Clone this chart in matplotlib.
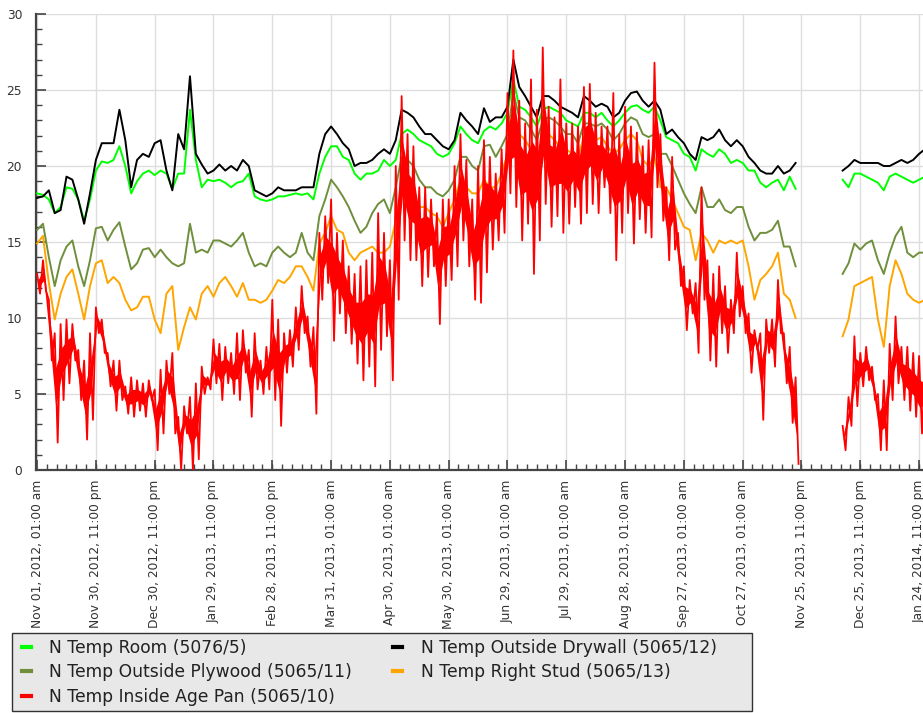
import numpy as np
import pandas as pd
import matplotlib
matplotlib.use("Agg")
import matplotlib.pyplot as plt
import matplotlib.dates as mdates
from matplotlib.ticker import FixedLocator, MultipleLocator
from matplotlib.lines import Line2D
from matplotlib.patches import Rectangle

nan = np.nan

# ---------------- data (one value every 3 days) ----------------
start = "2012-11-01 01:00"
step_days = 3

room = [18.2, 18.1, 17.8, 16.9, 17.3, 18.6, 18.5, 17.8, 16.4, 17.8,
        19.7, 20.3, 20.2, 20.4, 21.3, 20.0, 18.2, 19.0, 19.5, 19.7,
        19.4, 19.7, 19.5, 18.5, 19.5, 19.5, 23.7, 20.4, 18.6, 19.1,
        19.0, 19.1, 18.9, 18.6, 18.9, 19.0, 19.5, 18.0, 17.8, 17.7,
        17.8, 18.0, 18.0, 18.1, 18.2, 18.1, 18.2, 17.8, 19.5, 20.6,
        21.3, 21.3, 20.6, 20.4, 19.5, 19.1, 19.5, 19.5, 19.7, 20.4,
        20.0, 20.4, 22.1, 22.4, 22.1, 21.7, 21.5, 21.3, 20.8, 20.6,
        20.8, 21.5, 22.6, 22.1, 21.7, 21.5, 22.3, 22.6, 22.4, 22.8,
        23.5, 25.7, 23.9, 23.7, 23.2, 22.6, 23.7, 23.9, 23.7, 23.5,
        23.0, 22.8, 22.6, 23.5, 23.5, 23.2, 23.5, 23.0, 22.6, 23.0,
        23.5, 23.9, 24.0, 23.7, 23.5, 23.9, 23.0, 21.9, 21.7, 21.5,
        20.8, 20.6, 19.7, 21.1, 20.8, 20.6, 21.1, 20.8, 20.2, 20.4,
        20.2, 19.7, 19.7, 18.9, 18.6, 18.9, 19.1, 18.4, 19.3, 18.5,
        nan, nan, nan, nan, nan, nan, nan, 19.1, 18.6, 19.5,
        19.5, 19.3, 19.1, 18.9, 18.4, 19.3, 19.5, 19.3, 19.1, 18.9,
        19.1, 19.3]

drywall = [17.9, 18.0, 18.4, 16.9, 17.1, 19.3, 19.1, 17.8, 16.2, 18.2,
           20.4, 21.5, 21.5, 21.5, 23.7, 21.7, 18.6, 20.4, 20.8, 20.6,
           21.5, 21.7, 19.7, 18.4, 22.1, 21.1, 25.9, 20.8, 20.1, 19.5,
           19.7, 20.1, 19.7, 20.0, 19.7, 20.4, 20.0, 18.4, 18.2, 18.0,
           18.2, 18.6, 18.4, 18.4, 18.4, 18.6, 18.6, 18.6, 20.8, 22.1,
           22.6, 22.1, 21.5, 21.1, 20.0, 20.2, 20.2, 20.4, 20.8, 21.1,
           20.8, 21.7, 23.7, 23.5, 23.2, 22.6, 22.1, 22.1, 21.7, 21.3,
           21.1, 21.7, 23.5, 23.0, 22.6, 22.1, 23.8, 22.9, 23.2, 23.2,
           23.9, 27.0, 25.2, 24.6, 23.9, 23.2, 24.6, 24.6, 24.3, 23.9,
           23.7, 23.5, 23.2, 24.6, 24.3, 23.9, 24.1, 23.9, 23.2, 23.5,
           24.3, 24.8, 24.9, 24.3, 23.9, 24.3, 23.7, 22.1, 22.4, 21.9,
           21.5, 20.8, 20.4, 21.9, 21.7, 21.9, 22.4, 21.7, 21.3, 21.7,
           21.3, 20.6, 20.2, 19.7, 19.5, 19.5, 20.0, 19.5, 19.7, 20.2,
           nan, nan, nan, nan, nan, nan, nan, 19.7, 20.0, 20.4,
           20.2, 20.2, 20.2, 20.2, 20.0, 20.0, 20.2, 20.4, 20.2, 20.4,
           20.8, 21.1]

plywood = [15.8, 16.2, 14.0, 12.1, 13.8, 14.7, 15.1, 13.4, 12.1, 13.8,
           15.9, 16.0, 15.1, 15.8, 16.3, 14.7, 13.2, 13.6, 14.5, 14.6,
           14.0, 14.5, 14.0, 13.6, 13.4, 13.6, 16.2, 14.3, 14.5, 14.3,
           15.1, 15.1, 14.9, 14.7, 15.1, 15.6, 14.3, 13.4, 13.6, 13.4,
           14.3, 14.7, 14.3, 14.0, 14.3, 15.6, 14.3, 13.8, 16.7, 17.8,
           19.1, 18.6, 18.0, 17.3, 16.4, 15.6, 16.0, 16.9, 17.5, 17.8,
           16.9, 18.6, 20.6, 20.4, 20.0, 19.1, 18.6, 18.6, 18.2, 18.0,
           18.4, 19.1, 20.6, 20.6, 20.0, 19.7, 21.3, 21.4, 20.6, 21.3,
           22.1, 24.8, 23.2, 23.0, 22.4, 21.7, 23.0, 23.2, 23.0, 22.6,
           22.1, 22.1, 21.5, 22.8, 22.8, 22.6, 22.8, 22.4, 21.7, 22.1,
           22.8, 23.2, 23.0, 22.1, 21.9, 22.1, 20.8, 20.8, 20.0, 19.1,
           18.2, 17.5, 16.9, 18.6, 17.3, 17.3, 17.8, 17.1, 16.9, 17.3,
           17.3, 16.0, 15.1, 15.6, 15.6, 15.8, 16.4, 14.7, 14.7, 13.4,
           nan, nan, nan, nan, nan, nan, nan, 12.9, 13.6, 14.9,
           14.5, 14.9, 15.1, 13.8, 12.9, 14.3, 15.4, 16.0, 14.3, 14.0,
           14.3, 14.3]

stud = [14.9, 15.4, 12.3, 9.9, 11.6, 12.7, 13.2, 11.6, 9.9, 12.1,
        13.6, 13.8, 12.3, 12.7, 12.3, 11.2, 10.5, 10.7, 11.4, 11.4,
        9.9, 9.0, 11.6, 12.1, 7.9, 9.4, 10.7, 9.9, 11.6, 12.1,
        11.4, 12.3, 12.7, 12.1, 11.4, 12.3, 11.2, 11.2, 11.0, 11.2,
        11.8, 12.5, 12.3, 12.7, 13.4, 13.4, 12.7, 11.8, 14.9, 15.6,
        16.7, 15.8, 15.6, 14.3, 13.8, 14.3, 14.5, 14.7, 14.3, 14.3,
        14.7, 16.4, 18.6, 18.6, 18.0, 17.3, 17.3, 16.9, 16.7, 16.0,
        16.9, 17.8, 19.1, 18.6, 18.2, 18.2, 19.1, 18.6, 18.6, 19.5,
        20.8, 23.9, 22.1, 21.7, 21.1, 20.4, 21.7, 22.1, 21.7, 21.3,
        21.1, 20.8, 20.6, 21.9, 21.9, 21.7, 21.9, 21.3, 20.8, 21.1,
        21.7, 22.1, 21.7, 20.4, 20.0, 20.6, 18.6, 18.6, 17.8, 16.9,
        16.0, 15.8, 13.8, 15.6, 15.1, 14.3, 15.1, 14.9, 15.1, 14.9,
        15.1, 13.4, 11.2, 12.5, 12.9, 13.4, 14.3, 11.6, 11.2, 10.0,
        nan, nan, nan, nan, nan, nan, nan, 8.8, 9.9, 12.1,
        12.3, 12.5, 12.7, 9.9, 8.1, 12.1, 13.8, 12.9, 11.6, 11.2,
        11.0, 11.2]

# Inside Age Pan: daily highs and lows over each 3-day step
agepan_high = [12.9, 13.8, 11.2, 9.0, 9.6, 9.9, 9.6, 7.9, 7.2, 9.0,
               10.7, 9.9, 7.7, 7.2, 7.2, 5.5, 6.1, 5.9, 5.7, 5.9,
               5.3, 6.6, 7.2, 7.7, 3.5, 4.2, 4.8, 5.7, 6.8, 6.1,
               8.6, 8.3, 8.1, 7.7, 9.0, 9.2, 7.9, 9.0, 7.2, 8.1,
               11.2, 9.9, 9.0, 9.2, 10.7, 12.1, 10.1, 9.4, 15.6, 16.7,
               17.8, 15.6, 15.1, 13.4, 12.9, 13.4, 13.8, 14.3, 16.9, 15.6,
               13.8, 20.0, 24.6, 22.1, 21.3, 18.6, 18.6, 17.8, 16.9, 17.8,
               17.8, 20.0, 22.1, 20.4, 17.8, 20.0, 21.7, 20.6, 19.5, 21.1,
               24.8, 27.6, 24.3, 22.8, 25.7, 23.7, 27.8, 23.9, 23.2, 25.7,
               22.8, 22.8, 22.6, 25.2, 25.4, 23.5, 22.6, 22.6, 24.8, 22.1,
               23.9, 22.6, 22.2, 21.3, 21.7, 26.8, 22.1, 18.6, 20.6, 15.6,
               13.4, 12.5, 12.3, 18.6, 13.8, 12.9, 13.4, 12.1, 11.2, 14.3,
               12.1, 10.3, 9.2, 9.0, 9.9, 9.9, 12.5, 9.0, 8.1, 6.1,
               nan, nan, nan, nan, nan, nan, nan, 2.9, 4.8, 8.8,
               7.7, 8.1, 6.8, 5.0, 5.9, 8.3, 10.1, 8.1, 8.1, 7.7,
               7.5, 6.8]

agepan_low = [11.6, 11.8, 7.2, 1.8, 4.6, 5.7, 7.2, 4.6, 2.0, 3.3,
              9.0, 7.7, 5.5, 3.9, 4.6, 3.7, 3.5, 3.9, 3.5, 4.6,
              1.3, 2.4, 5.0, 2.4, 0.0, 2.4, 0.0, 0.7, 5.0, 5.3,
              5.7, 4.6, 5.7, 5.0, 4.6, 6.4, 3.5, 5.3, 5.0, 5.3,
              4.6, 2.9, 6.4, 6.8, 7.9, 9.0, 6.8, 3.7, 11.2, 12.3,
              8.5, 10.3, 9.0, 8.3, 7.0, 5.9, 6.8, 5.5, 7.9, 8.8,
              5.9, 11.2, 15.1, 13.8, 13.8, 12.1, 12.7, 13.4, 9.6, 12.1,
              12.5, 13.4, 15.1, 13.4, 11.2, 11.0, 13.0, 14.5, 15.1, 15.6,
              18.2, 17.3, 15.1, 16.2, 12.9, 15.1, 17.5, 16.0, 16.7, 15.6,
              16.2, 17.3, 16.2, 16.9, 17.5, 16.9, 18.6, 16.9, 13.8, 15.6,
              16.9, 14.9, 16.5, 15.6, 15.3, 18.6, 16.4, 13.8, 14.5, 12.1,
              9.2, 10.3, 7.7, 11.2, 7.2, 6.8, 9.0, 7.7, 9.0, 10.1,
              9.0, 6.4, 7.9, 3.3, 7.7, 6.8, 9.0, 5.7, 3.1, 0.4,
              nan, nan, nan, nan, nan, nan, nan, 1.3, 2.9, 4.2,
              5.5, 5.9, 4.6, 1.3, 1.3, 4.6, 5.7, 4.6, 3.9, 3.5,
              2.4, 3.3]

tick_labels = ["Nov 01, 2012, 01:00 am", "Nov 30, 2012, 11:00 pm", "Dec 30, 2012, 11:00 pm",
               "Jan 29, 2013, 11:00 pm", "Feb 28, 2013, 11:00 pm", "Mar 31, 2013, 01:00 am",
               "Apr 30, 2013, 01:00 am", "May 30, 2013, 01:00 am", "Jun 29, 2013, 01:00 am",
               "Jul 29, 2013, 01:00 am", "Aug 28, 2013, 01:00 am", "Sep 27, 2013, 01:00 am",
               "Oct 27, 2013, 01:00 am", "Nov 25, 2013, 11:00 pm", "Dec 25, 2013, 11:00 pm",
               "Jan 24, 2014, 11:00 pm"]

series_names = ["N Temp Room (5076/5)", "N Temp Outside Drywall (5065/12)",
                "N Temp Outside Plywood (5065/11)", "N Temp Right Stud (5065/13)",
                "N Temp Inside Age Pan (5065/10)"]
colors = ["#00ff00", "#000000", "#6f8f3c", "#ffa500", "#ff0000"]

# ---------------- build time axis ----------------
t0 = pd.Timestamp(start)
dates = t0 + pd.to_timedelta(np.arange(len(room)) * step_days, unit="D")
x = mdates.date2num(dates.to_pydatetime())

# red: alternate high (at the step) and low (half a step later)
half = step_days / 2.0
red_x = np.empty(2 * len(x)); red_x[0::2] = x; red_x[1::2] = x + half
red_y = np.empty(2 * len(x)); red_y[0::2] = agepan_high; red_y[1::2] = agepan_low
hi_a = np.array(agepan_high); lo_a = np.array(agepan_low)

# ---------------- figure ----------------
W, H = 923, 713
fig = plt.figure(figsize=(W / 100, H / 100), dpi=100)
fig.patch.set_facecolor("white")
ax = fig.add_axes([36 / W, 1 - 470 / H, 1 - 36 / W, (470 - 14) / H])

lw = 1.4
ax.plot(x, room, color=colors[0], lw=lw, zorder=3)
ax.plot(x, drywall, color=colors[1], lw=lw, zorder=4)
ax.plot(x, plywood, color=colors[2], lw=lw, zorder=5)
ax.plot(x, stud, color=colors[3], lw=lw, zorder=6)
ax.fill_between(x + half / 2, lo_a + 0.32 * (hi_a - lo_a), hi_a - 0.32 * (hi_a - lo_a),
                color=colors[4], lw=0, zorder=7)
ax.plot(red_x, red_y, color=colors[4], lw=1.3, zorder=7)

x0 = mdates.date2num(t0.to_pydatetime())
ax.set_xlim(x0 - 0.56, x0 + 452.0)
ax.set_ylim(0, 30)

tick_pos = mdates.date2num(pd.to_datetime(tick_labels, format="%b %d, %Y, %I:%M %p").to_pydatetime())
ax.xaxis.set_major_locator(FixedLocator(tick_pos))
ax.set_xticklabels(tick_labels, rotation=90, fontsize=8.8, color="#333333",
                   va="top", ha="center")
minor = mdates.date2num((t0 + pd.to_timedelta(np.arange(0, 460, 5), unit="D")).to_pydatetime())
ax.xaxis.set_minor_locator(FixedLocator(minor))

ax.yaxis.set_major_locator(MultipleLocator(5))
ax.yaxis.set_minor_locator(MultipleLocator(1))
for lab in ax.get_yticklabels():
    lab.set_fontsize(8.8)
    lab.set_color("#333333")

ax.tick_params(which="both", direction="in", color="#444444")
ax.tick_params(which="major", length=7, width=1.2)
ax.tick_params(which="minor", length=4, width=1.0)
ax.tick_params(axis="y", pad=10)
ax.tick_params(axis="x", pad=7)

ax.grid(which="major", color="#dedede", lw=1.0)
ax.set_axisbelow(True)
for s in ["top", "right"]:
    ax.spines[s].set_visible(False)
for s in ["left", "bottom"]:
    ax.spines[s].set_color("#444444")
    ax.spines[s].set_linewidth(1.6)

# legend box drawn as a figure patch, legend entries on top of it
box = Rectangle((12 / W, 1 - 711 / H), 740 / W, 78 / H, transform=fig.transFigure,
                facecolor="#e8e8e8", edgecolor="#333333", lw=1.0, zorder=4)
fig.patches.append(box)

order = [0, 2, 4, 1, 3]
handles = [Line2D([], [], color=colors[i], lw=3) for i in order]
labels = [series_names[i] for i in order]
leg = fig.legend(handles, labels, ncol=2, loc="upper left",
                 bbox_to_anchor=(22 / W, 1 - 639 / H),
                 prop={"family": "DejaVu Sans", "size": 12.3},
                 handlelength=0.5, handletextpad=1.1, labelspacing=0.37,
                 columnspacing=2.4, borderpad=0, borderaxespad=0,
                 frameon=False)
leg.set_zorder(5)
for t in leg.get_texts():
    t.set_color("#222222")

fig.savefig("out.png", dpi=100)
